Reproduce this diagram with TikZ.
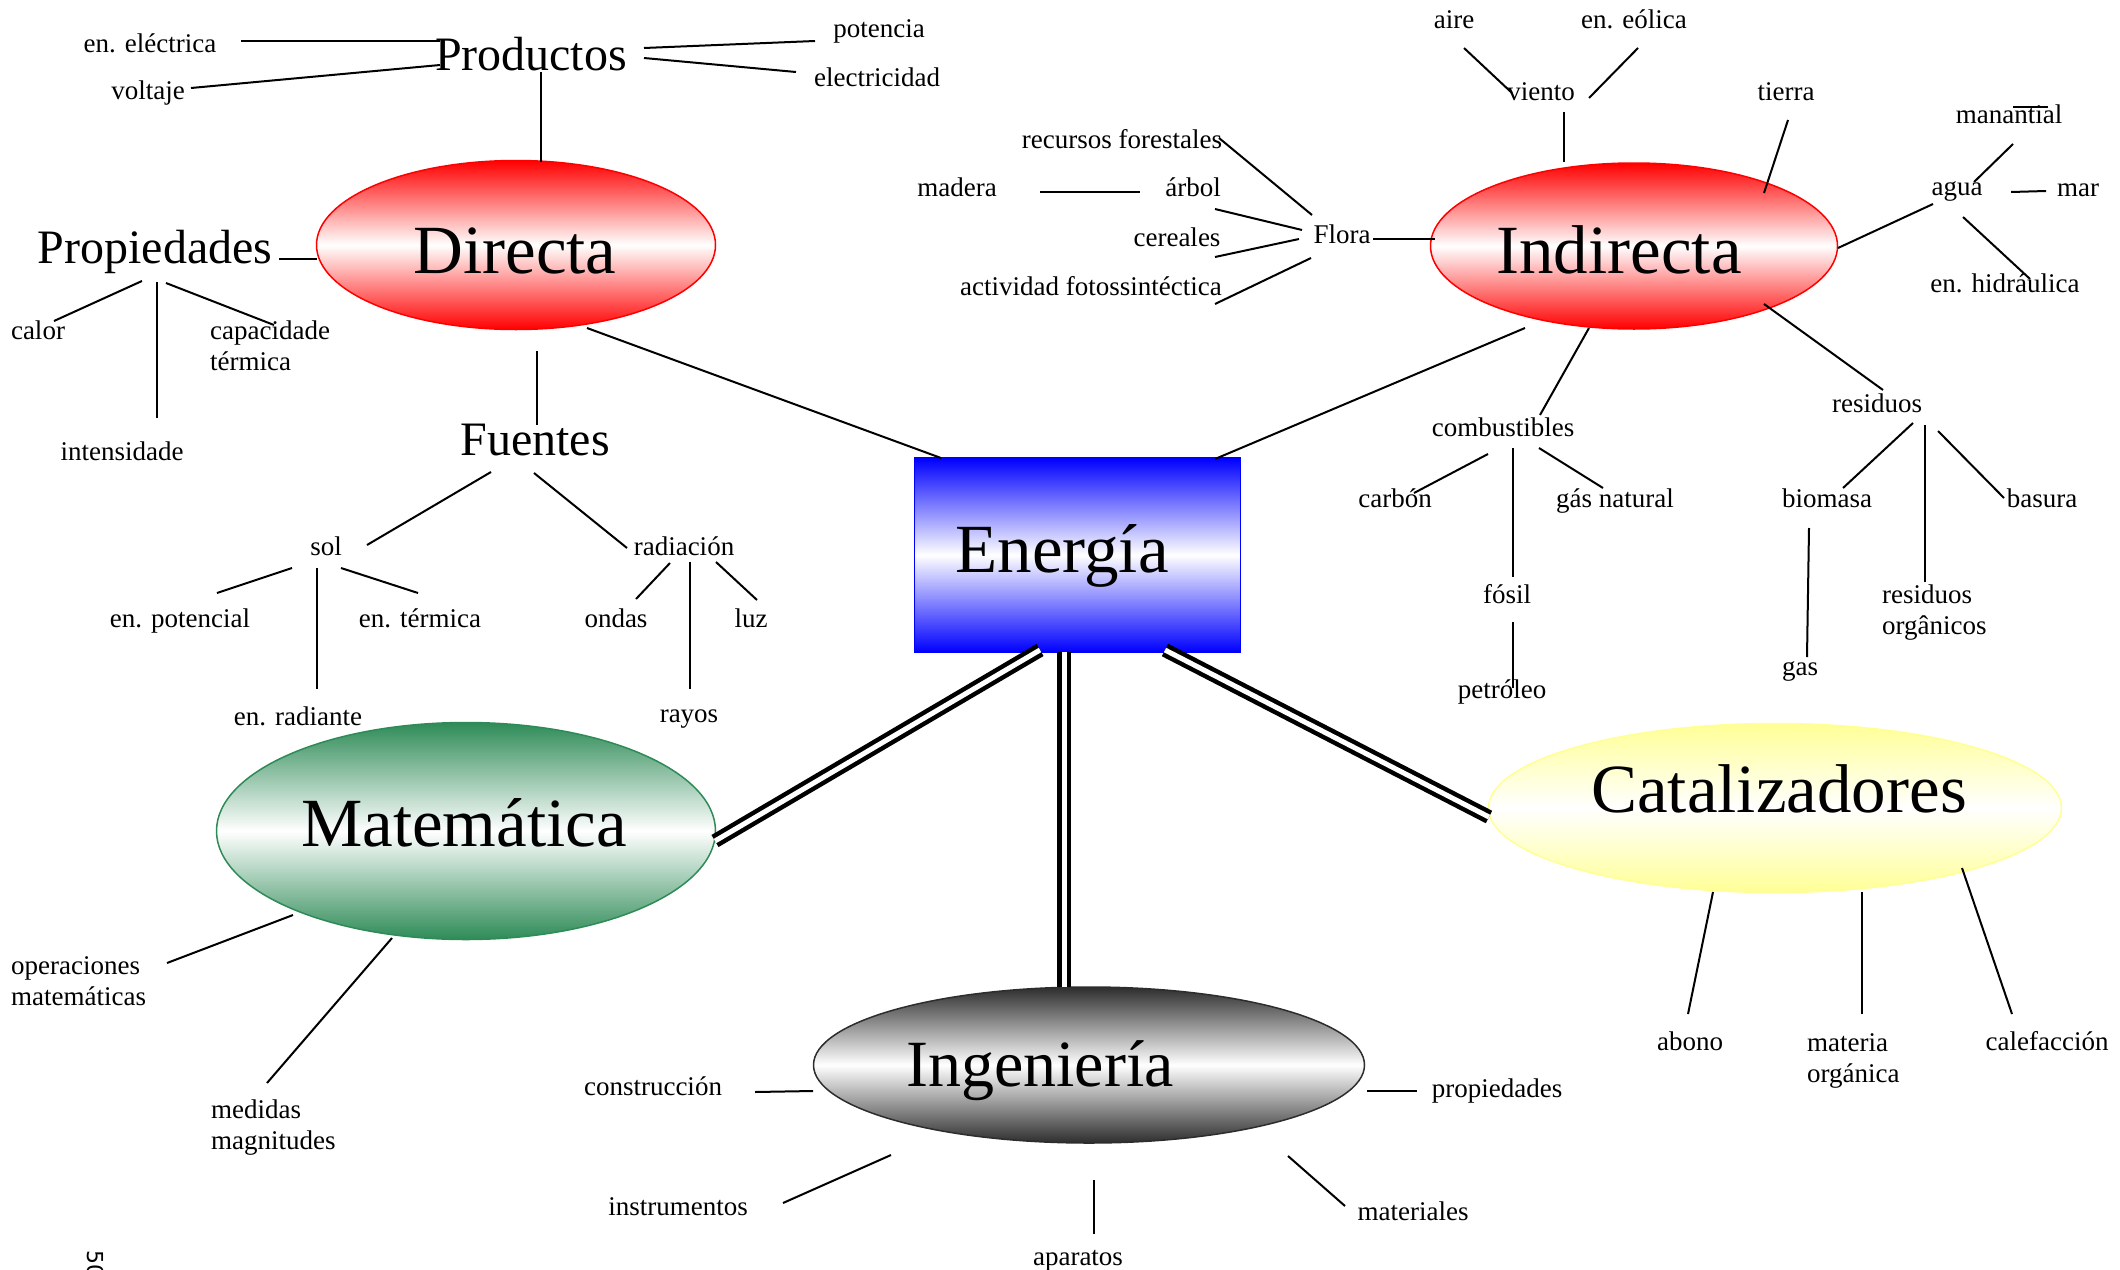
\documentclass[tikz,border=0pt]{standalone}
\usepackage{fontspec}
\setmainfont{Liberation Serif}
\newfontfamily\numfont{DejaVu Sans}
\usetikzlibrary{shapes.geometric,calc}
\definecolor{sgreen}{RGB}{46,139,87}
\definecolor{dgray}{RGB}{45,45,45}
\definecolor{lyel}{RGB}{255,255,150}
\begin{document}
\begin{tikzpicture}[x=1pt,y=-1pt,
  sm/.style={font=\fontsize{27}{31}\selectfont, inner sep=0pt, anchor=base},
  smtwo/.style={font=\fontsize{27}{31}\selectfont, inner sep=0pt, anchor=north west, align=left},
  md/.style={font=\fontsize{48}{54}\selectfont, inner sep=0pt, anchor=base},
  lg/.style={font=\fontsize{69}{76}\selectfont, inner sep=0pt, anchor=base},
  hub/.style={ellipse, inner sep=0pt, outer sep=0pt, line width=1.5pt},
  ln/.style={line width=2pt},
  dbl/.style={double, double distance=5pt, line width=4.5pt}]
\useasboundingbox (0,0) rectangle (2120,1269);

% hubs
\node[hub, draw=red, top color=red, bottom color=red, middle color=white,
      minimum width=399pt, minimum height=169pt] (dir) at (516,245) {};
\node[hub, draw=red, top color=red, bottom color=red, middle color=white,
      minimum width=407pt, minimum height=166pt] (ind) at (1634,246) {};
\node[hub, draw=sgreen, top color=sgreen, bottom color=sgreen, middle color=white,
      minimum width=499pt, minimum height=217pt] (mat) at (466,831) {};
\node[hub, draw=dgray, top color=dgray, bottom color=dgray, middle color=white,
      minimum width=551pt, minimum height=156pt] (ing) at (1089,1065) {};
\node[hub, draw=lyel, top color=lyel, bottom color=lyel, middle color=white,
      minimum width=573pt, minimum height=169pt] (cat) at (1775,808) {};
\node[draw=blue, line width=1.5pt, top color=blue, bottom color=blue, middle color=white,
      minimum width=326pt, minimum height=194pt, inner sep=0pt, outer sep=0pt] (en) at (1077.5,555) {};

% hub labels
\node[lg] (dirT) at (515,273) {Directa};
\node[lg] (indT) at (1619,273) {Indirecta};
\node[lg] (enT) at (1062,572) {Energía};
\node[lg] (matT) at (464,846) {Matemática};
\node[lg, font=\fontsize{66}{72}\selectfont] (ingT) at (1040,1086) {Ingeniería};
\node[lg] (catT) at (1779,812) {Catalizadores};

% medium labels
\node[md] (prod) at (531,70) {Productos};
\node[md] (propT) at (155,263) {Propiedades};
\node[md] (fuentes) at (535,455) {Fuentes};

% small labels
\node[sm] (elec) at (150,52) {en. eléctrica};
\node[sm] (volt) at (148,99) {voltaje};
\node[sm] (pot) at (879,37) {potencia};
\node[sm] (electr) at (877,86) {electricidad};
\node[sm] (calor) at (38,339) {calor};
\node[smtwo] (capac) at (210,321) {capacidade\\térmica};
\node[sm] (intens) at (122,460) {intensidade};
\node[sm] (sol) at (326,555) {sol};
\node[sm] (radiac) at (684,555) {radiación};
\node[sm] (enpot) at (180,627) {en. potencial};
\node[sm] (enterm) at (420,627) {en. térmica};
\node[sm] (ondas) at (616,627) {ondas};
\node[sm] (luz) at (751,627) {luz};
\node[sm] (enrad) at (298,725) {en. radiante};
\node[sm] (rayos) at (689,722) {rayos};
\node[smtwo] (oper) at (11,956) {operaciones\\matemáticas};
\node[smtwo] (medidas) at (211,1100) {medidas\\magnitudes};
\node[sm] (constr) at (653,1095) {construcción};
\node[sm] (instr) at (678,1215) {instrumentos};
\node[sm] (apar) at (1078,1265) {aparatos};
\node[sm] (mats) at (1413,1220) {materiales};
\node[sm] (prop2) at (1497,1097) {propiedades};
\node[sm] (abono) at (1690,1050) {abono};
\node[smtwo] (materia) at (1807,1033) {materia\\orgánica};
\node[sm] (calef) at (2047,1050) {calefacción};
\node[sm] (aire) at (1454,28) {aire};
\node[sm] (eolica) at (1634,28) {en. eólica};
\node[sm] (viento) at (1541,100) {viento};
\node[sm] (tierra) at (1786,100) {tierra};
\node[sm] (man) at (2009,123) {manantial};
\node[sm] (agua) at (1957,195) {agua};
\node[sm] (mar) at (2078,196) {mar};
\node[sm] (hidr) at (2005,292) {en. hidráulica};
\node[sm] (rec) at (1122,148) {recursos forestales};
\node[sm] (mad) at (957,196) {madera};
\node[sm] (arb) at (1193,196) {árbol};
\node[sm] (cer) at (1177,246) {cereales};
\node[sm] (act) at (1091,295) {actividad fotossintéctica};
\node[sm] (flora) at (1342,243) {Flora};
\node[sm] (comb) at (1503,436) {combustibles};
\node[sm] (res) at (1877,412) {residuos};
\node[sm] (carb) at (1395,507) {carbón};
\node[sm] (gn) at (1615,507) {gás natural};
\node[sm] (bio) at (1827,507) {biomasa};
\node[sm] (bas) at (2042,507) {basura};
\node[sm] (fos) at (1507,603) {fósil};
\node[sm] (pet) at (1502,698) {petróleo};
\node[smtwo] (resorg) at (1882,585) {residuos\\orgânicos};
\node[sm] (gas) at (1800,675) {gas};

\node[font=\numfont\fontsize{22}{24}\selectfont, rotate=-90, anchor=base west, inner sep=0pt] (pnum) at (87,1250) {50};

% thin connectors
\foreach \a/\ax/\ay/\b/\bx/\by in {
  elec.base/91/-11/prod.base/-91/-29,
  volt.base/43/-11/prod.base/-91/-5,
  prod.base/113/-22/pot.base/-64/4,
  prod.base/113/-12/electr.base/-81/-14,
  prod.base/10/2/dir.center/25/-83,
  propT.base/124/-4/dir.center/-199/14,
  propT.base/-13/18/calor.base/16/-18,
  propT.base/2/19/intens.base/35/-42,
  propT.base/11/20/capac.north west/64/4,
  dir.center/21/106/fuentes.base/2/-30,
  dir.center/71/83/en.center/-136.5/-97,
  fuentes.base/-44/17/sol.base/41/-10,
  fuentes.base/-1/18/radiac.base/-57/-7,
  sol.base/-34/13/enpot.base/37/-34,
  sol.base/-9/13/enrad.base/19/-36,
  sol.base/15/13/enterm.base/-2/-34,
  radiac.base/-14/8/ondas.base/20/-28,
  radiac.base/6/7/rayos.base/1/-33,
  radiac.base/32/7/luz.base/6/-27,
  mat.center/-173/84/oper.north west/156/7,
  mat.center/-74/107/medidas.north west/56/-17,
  ing.center/-276/26/constr.base/102/-3,
  ing.center/-198/90/instr.base/105/-12,
  ing.center/5/115/apar.base/16/-31,
  ing.center/199/91/mats.base/-68/-14,
  ing.center/278/26/prop2.base/-80/-6,
  cat.center/-62/84/abono.base/-2/-36,
  cat.center/87/84/materia.north west/55/-19,
  cat.center/187/60/calef.base/-35/-36,
  viento.base/23/12/ind.center/-70/-84,
  aire.base/10/20/viento.base/-29/-7,
  eolica.base/4/20/viento.base/48/-2,
  tierra.base/2/20/ind.center/130/-53,
  man.base/4/21/agua.base/17/-13,
  man.base/4/-16/man.base/39/-16,
  agua.base/54/-3/mar.base/-32/-5,
  agua.base/6/22/hidr.base/25/-13,
  agua.base/-24/9/ind.center/204/2,
  flora.base/31/-4/ind.center/-199/-7,
  rec.base/97/-10/flora.base/-30/-28,
  mad.base/83/-4/arb.base/-53/-4,
  arb.base/22/13/flora.base/-40/-13,
  cer.base/38/11/flora.base/-43/-4,
  act.base/124/9/flora.base/-31/15,
  ind.center/-109/82/en.center/137.5/-96,
  ind.center/-45/82/comb.base/37/-21,
  ind.center/130/58/res.base/6/-22,
  comb.base/-15/18/carb.base/19/-14,
  comb.base/10/12/fos.base/6/-26,
  comb.base/36/12/gn.base/-12/-19,
  fos.base/6/19/pet.base/11/-10,
  res.base/36/11/bio.base/16/-19,
  res.base/48/13/resorg.north west/43/-3,
  res.base/61/19/bas.base/-38/-9,
  bio.base/-18/21/gas.base/7/-18}
  \draw[ln] ($(\a)+(\ax,\ay)$) -- ($(\b)+(\bx,\by)$);

% double connectors
\draw[dbl] ($(en.center)+(-37.5,95)$) -- ($(mat.center)+(249,10)$);
\draw[dbl] ($(en.center)+(-13.5,97)$) -- ($(ing.center)+(-25,-78)$);
\draw[dbl] ($(en.center)+(87.5,95)$) -- ($(cat.center)+(-286,9)$);
\end{tikzpicture}
\end{document}
